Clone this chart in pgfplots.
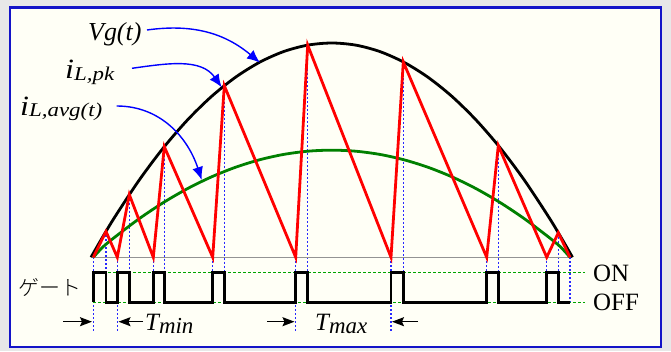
\documentclass[border=0pt]{standalone}
\usepackage{pgfplots}
\pgfplotsset{compat=1.18}
\usepackage{graphicx}
\usepackage{fontspec}
\setmainfont{Liberation Serif}
\newfontfamily\cjk{Noto Sans CJK JP Light}
\usetikzlibrary{arrows.meta}

\definecolor{outerbg}{RGB}{232,232,232}
\definecolor{panel}{RGB}{255,255,246}
\definecolor{frameblue}{RGB}{20,20,200}
\definecolor{vline}{RGB}{40,40,255}
\definecolor{avggreen}{RGB}{0,128,0}
\definecolor{levelgreen}{RGB}{0,165,0}

% italic label pieces
\newcommand{\bigi}{\scalebox{1.15}[1]{\fontsize{28}{28}\selectfont\itshape i}}
\newcommand{\isub}[1]{\raisebox{-1.5bp}{\scalebox{1}[0.85]{\fontsize{23}{23}\selectfont\itshape #1}}}
\newcommand{\tsub}[1]{\raisebox{-3bp}{\fontsize{23}{23}\selectfont\itshape #1}}

\begin{document}
\begin{tikzpicture}
\begin{axis}[
  x=1bp, y=1bp,
  xmin=0, xmax=671, ymin=-93.7, ymax=257.3,
  hide axis, clip=false,
]
% page and panel
\fill[outerbg] (0,-93.7) rectangle (671,257.3);
\filldraw[fill=panel, draw=frameblue, line width=2.2bp] (10,-89.7) rectangle (661,249.8);

% switching instants (dotted guides)
\pgfplotsset{guide/.style={vline, line width=1.1bp, dash pattern=on 2bp off 2bp, forget plot}}
\addplot[guide] coordinates {(93.3,0) (93.3,-76)};
\addplot[guide] coordinates {(117.3,0) (117.3,-76)};
\addplot[guide] coordinates {(153.3,0) (153.3,-45)};
\addplot[guide] coordinates {(212.7,0) (212.7,-45)};
\addplot[guide] coordinates {(295.7,0) (295.7,-76)};
\addplot[guide] coordinates {(391,0) (391,-76)};
\addplot[guide] coordinates {(486.7,0) (486.7,-45)};
\addplot[guide] coordinates {(546.7,0) (546.7,-45)};
\addplot[guide] coordinates {(570,0) (570,-45)};
\addplot[guide] coordinates {(106,25.87) (106,-45)};
\addplot[guide] coordinates {(129.3,62.76) (129.3,-45)};
\addplot[guide] coordinates {(164.3,110.63) (164.3,-45)};
\addplot[guide] coordinates {(224.3,171.61) (224.3,-45)};
\addplot[guide] coordinates {(307.7,212.16) (307.7,-45)};
\addplot[guide] coordinates {(403.3,195.37) (403.3,-45)};
\addplot[guide] coordinates {(498.3,111.74) (498.3,-45)};
\addplot[guide] coordinates {(558.3,24.53) (558.3,-45)};

% ON / OFF levels
\addplot[levelgreen, line width=0.9bp, dash pattern=on 3bp off 2bp] coordinates {(93.3,-15) (585,-15)};
\addplot[levelgreen, line width=0.9bp, dash pattern=on 3bp off 2bp] coordinates {(93.3,-45) (585,-45)};

% zero line
\addplot[gray!85, line width=1.3bp] coordinates {(93.3,0) (570,0)};

% input voltage envelope
\addplot[black, line width=2.8bp, smooth] coordinates {
 (91,0) (103.04,20.89) (115.08,40.72) (139.15,77.15) (163.23,109.29)
 (187.3,137.15) (211.38,160.73) (235.45,180.01) (259.53,195.01)
 (283.6,205.73) (307.68,212.16) (331.75,214.3) (355.83,212.16)
 (379.9,205.73) (403.98,195.01) (428.05,180.01) (452.13,160.73)
 (476.2,137.15) (500.28,109.29) (524.35,77.15) (548.43,40.72)
 (560.46,20.89) (572.5,0)};

% average inductor current
\addplot[avggreen, line width=2.8bp, smooth] coordinates {
 (93.3,0) (103.04,10.45) (115.08,20.36) (139.15,38.58) (163.23,54.65)
 (187.3,68.58) (211.38,80.37) (235.45,90.01) (259.53,97.51)
 (283.6,102.87) (307.68,106.08) (331.75,107.15) (355.83,106.08)
 (379.9,102.87) (403.98,97.51) (428.05,90.01) (452.13,80.37)
 (476.2,68.58) (500.28,54.65) (524.35,38.58) (548.43,20.36)
 (560.46,10.45) (570,0)};

% inductor current
\addplot[red, line width=2.8bp, line join=miter] coordinates {
 (93.3,0) (106,25.87) (117.3,0) (129.3,62.76) (153.3,0) (164.3,110.63)
 (212.7,0) (224.3,171.61) (295.7,0) (307.7,212.16) (391,0) (403.3,195.37)
 (486.7,0) (498.3,111.74) (546.7,0) (558.3,24.53) (570,0)};

% gate signal
\addplot[black, line width=2.8bp, line join=miter] coordinates {
 (93.3,-45) (93.3,-15) (106,-15) (106,-45) (117.3,-45) (117.3,-15)
 (129.3,-15) (129.3,-45) (153.3,-45) (153.3,-15) (164.3,-15) (164.3,-45)
 (212.7,-45) (212.7,-15) (224.3,-15) (224.3,-45) (295.7,-45) (295.7,-15)
 (307.7,-15) (307.7,-45) (391,-45) (391,-15) (403.3,-15) (403.3,-45)
 (486.7,-45) (486.7,-15) (498.3,-15) (498.3,-45) (546.7,-45) (546.7,-15)
 (558.3,-15) (558.3,-45) (570,-45)};

% labels and pointers
\node[anchor=base west, inner sep=0pt] at (88,217.3) {\fontsize{26}{26}\selectfont\itshape Vg(t)};
\node[anchor=base west, inner sep=0pt] at (65,178.6) {\bigi\isub{L,pk}};
\node[anchor=base west, inner sep=0pt] at (20,142) {\bigi\isub{L,avg(t)}};

\draw[blue, line width=1.4bp, -{Latex[length=13bp,width=11bp]}] (147,227.3) to[out=8,in=140] (260,194.6);
\draw[blue, line width=1.4bp, -{Latex[length=13bp,width=11bp]}] (132,189) to[out=8,in=125] (221.7,170);
\draw[blue, line width=1.4bp, -{Latex[length=13bp,width=11bp]}] (116.7,151.3) to[out=0,in=108] (201.7,77.3);

\node[anchor=center, inner sep=0pt, text=black] at (50,-30) {\cjk\fontsize{21}{21}\selectfont ゲート};
\node[anchor=base west, inner sep=0pt] at (593,-24.4) {\fontsize{25}{25}\selectfont ON};
\node[anchor=base west, inner sep=0pt] at (593,-52.7) {\fontsize{25}{25}\selectfont OFF};

\draw[black, line width=1.4bp, -{Stealth[length=12bp,width=9bp,inset=2bp]}] (63,-64.4) -- (92,-64.4);
\draw[black, line width=1.4bp, -{Stealth[length=12bp,width=9bp,inset=2bp]}] (143,-64.4) -- (118.5,-64.4);
\draw[black, line width=1.4bp, -{Stealth[length=12bp,width=9bp,inset=2bp]}] (267,-64.4) -- (294.5,-64.4);
\draw[black, line width=1.4bp, -{Stealth[length=12bp,width=9bp,inset=2bp]}] (418,-64.4) -- (392,-64.4);

\node[anchor=base west, inner sep=0pt] at (145,-72.7) {\fontsize{25}{25}\selectfont\itshape T\tsub{min}};
\node[anchor=base west, inner sep=0pt] at (315,-72.7) {\fontsize{25}{25}\selectfont\itshape T\tsub{max}};
\end{axis}
\end{tikzpicture}
\end{document}
